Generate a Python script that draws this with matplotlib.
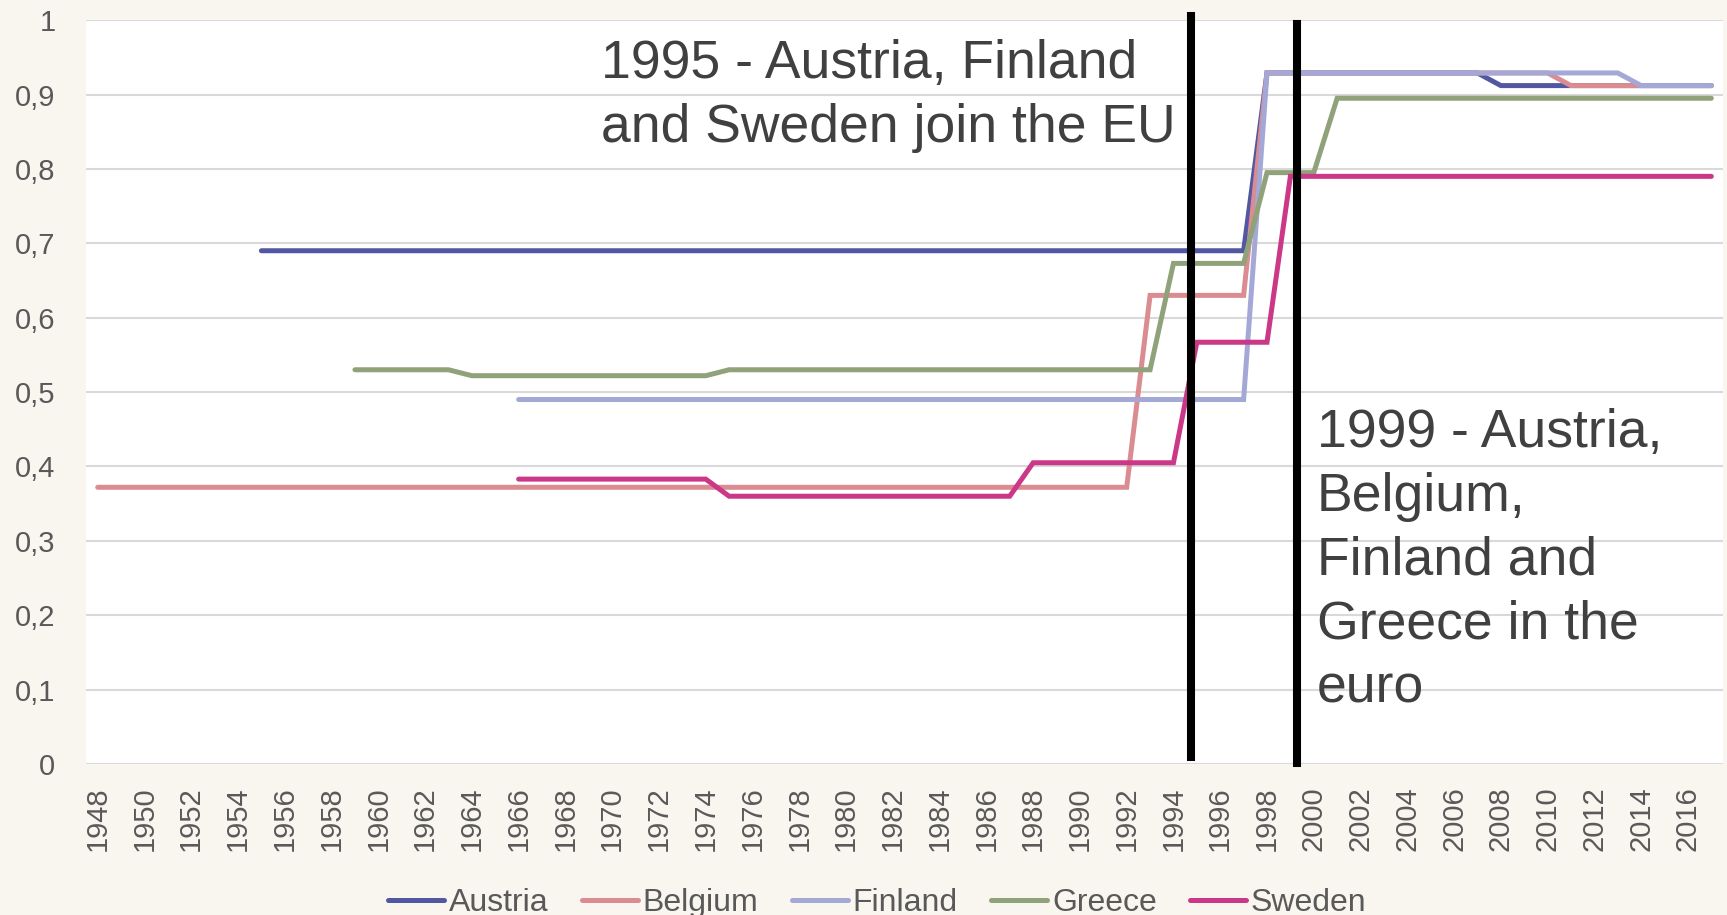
import matplotlib
matplotlib.use('Agg')
import matplotlib.pyplot as plt
import numpy as np

plt.rcParams.update({
    "font.family": ["Liberation Sans", "DejaVu Sans"],
})

# Series: years where the value changes, and values at those years
austria_years = [1955, 1997, 1998, 2007, 2008, 2017]
austria_vals = [0.69, 0.69, 0.929, 0.929, 0.912, 0.912]

belgium_years = [1948, 1992, 1993, 1997, 1998, 2010, 2011, 2017]
belgium_vals = [0.372, 0.372, 0.63, 0.63, 0.929, 0.929, 0.912, 0.912]

finland_years = [1966, 1997, 1998, 2013, 2014, 2017]
finland_vals = [0.49, 0.49, 0.929, 0.929, 0.912, 0.912]

greece_years = [1959, 1963, 1964, 1974, 1975, 1993, 1994, 1997, 1998, 2000, 2001, 2017]
greece_vals = [0.53, 0.53, 0.522, 0.522, 0.53, 0.53, 0.673, 0.673, 0.795, 0.795, 0.895, 0.895]

sweden_years = [1966, 1974, 1975, 1987, 1988, 1994, 1995, 1998, 1999, 2017]
sweden_vals = [0.383, 0.383, 0.36, 0.36, 0.405, 0.405, 0.567, 0.567, 0.79, 0.79]

countries = ['Austria', 'Belgium', 'Finland', 'Greece', 'Sweden']
colors = ['#5257A1', '#DA8C90', '#A4A8D6', '#90A279', '#CB3888']

xtick_years = list(range(1948, 2017, 2))
ytick_vals = [0, 0.1, 0.2, 0.3, 0.4, 0.5, 0.6, 0.7, 0.8, 0.9, 1.0]
ytick_labels = ['0', '0,1', '0,2', '0,3', '0,4', '0,5', '0,6', '0,7', '0,8', '0,9', '1']

events = [1994.75, 1999.28]
ann1 = '1995 - Austria, Finland\nand Sweden join the EU'
ann2 = '1999 - Austria,\nBelgium,\nFinland and\nGreece in the\neuro'

bg = '#F9F5EF'
fig = plt.figure(figsize=(17.27, 9.15), dpi=100, facecolor=bg)
ax = fig.add_axes([0.0498, 0.165, 0.9479, 0.813])
ax.set_facecolor('white')

series = [(austria_years, austria_vals), (belgium_years, belgium_vals),
          (finland_years, finland_vals), (greece_years, greece_vals),
          (sweden_years, sweden_vals)]
for (yrs, vals), name, c in zip(series, countries, colors):
    ax.plot(yrs, vals, color=c, lw=3.6, solid_capstyle='round',
            solid_joinstyle='miter', label=name, zorder=3)

# vertical marker lines
ax.plot([events[0], events[0]], [0.0094, 1.005], color='black', lw=5.8,
        clip_on=False, zorder=4)
ax.plot([events[1], events[1]], [0.001, 0.995], color='black', lw=5.8,
        clip_on=False, zorder=4)

ax.set_xlim(1947.5, 2017.5)
ax.set_ylim(0, 1)
ax.set_xticks(xtick_years)
ax.set_xticklabels([str(y) for y in xtick_years], rotation=90)
ax.set_yticks(ytick_vals)
ax.set_yticklabels(ytick_labels)
ax.tick_params(axis='x', length=0, pad=16, labelsize=21, labelcolor='#595959')
ax.tick_params(axis='y', length=0, pad=22, labelsize=21, labelcolor='#595959')
ax.grid(axis='y', color='#D9D9D9', lw=1.5, zorder=0)
ax.set_axisbelow(True)
for s in ax.spines.values():
    s.set_visible(False)

ax.text(1969.52, 0.974, ann1, fontsize=38.5, color='#404040', va='top', ha='left',
        linespacing=1.35, zorder=5)
ax.text(2000.13, 0.478, ann2, fontsize=38.5, color='#404040', va='top', ha='left',
        linespacing=1.35, zorder=5)

leg = fig.legend(loc='center', bbox_to_anchor=(0.508, 0.0134), ncol=5, frameon=False,
                 fontsize=23, handlelength=1.75, handletextpad=0.15,
                 columnspacing=1.05, labelcolor='#595959')

plt.savefig('out.png', dpi=100, facecolor=bg)
